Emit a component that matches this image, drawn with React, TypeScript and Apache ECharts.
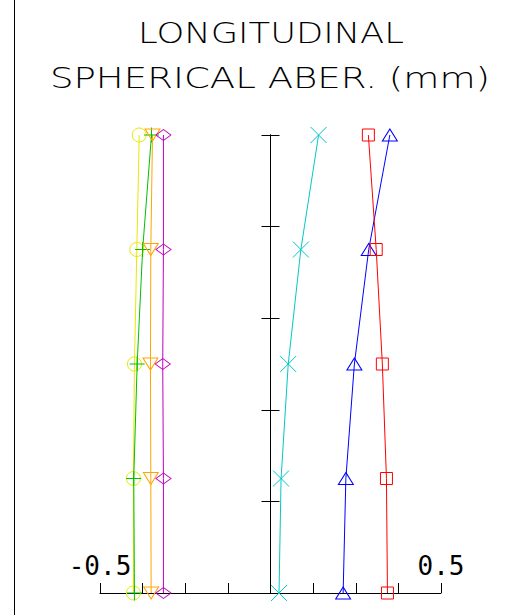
import React, { useEffect, useRef } from "react";
import * as echarts from "echarts";

const titleLines = ["LONGITUDINAL", "SPHERICAL ABER. (mm)"];
const xTickLabels = ["-0.5", "0.5"];
const pupilHeights = [0, 0.25, 0.5, 0.75, 1.0];

const yellowCircle = [-0.402, -0.402, -0.399, -0.392, -0.385];
const greenPlus = [-0.399, -0.401, -0.391, -0.375, -0.349];
const orangeInvTriangle = [-0.35, -0.351, -0.352, -0.351, -0.346];
const magentaDiamond = [-0.314, -0.314, -0.316, -0.314, -0.314];
const cyanCross = [0.025, 0.031, 0.052, 0.089, 0.141];
const blueTriangle = [0.213, 0.221, 0.246, 0.288, 0.35];
const redSquare = [0.343, 0.34, 0.328, 0.31, 0.287];

const FONT = "DejaVu Sans Mono";
const TITLE_FONT = "DejaVu Sans";

function mkSeries(
  name: string,
  values: number[],
  color: string,
  symbol: string,
  size: number | number[],
  rotate = 0
) {
  return {
    name,
    type: "line",
    data: values.map((v, i) => [v, pupilHeights[i]]),
    symbol,
    symbolSize: size,
    symbolRotate: rotate,
    showSymbol: true,
    lineStyle: { color, width: 1 },
    itemStyle: { color: "transparent", borderColor: color, borderWidth: 1 },
    emphasis: { disabled: true },
    z: 3,
  };
}

export default function App() {
  const ref = useRef<HTMLDivElement>(null);
  useEffect(() => {
    if (!ref.current) return;
    const chart = echarts.init(ref.current, null, { renderer: "svg" });
    const yAxisBase = {
      type: "value",
      min: 0,
      max: 1,
      interval: 0.2,
      axisLine: { show: true, onZero: true, onZeroAxisIndex: 0, lineStyle: { color: "#000", width: 1 } },
      axisTick: { show: true, length: 9, lineStyle: { color: "#000", width: 1 } },
      axisLabel: { show: false },
      splitLine: { show: false },
    };
    chart.setOption({
      animation: false,
      backgroundColor: "#fff",
      grid: { left: 100, right: 81, top: 135, bottom: 22, containLabel: false },
      xAxis: {
        type: "value",
        min: -0.5,
        max: 0.5,
        interval: 0.125,
        axisLine: { show: true, onZero: false, lineStyle: { color: "#000", width: 1 } },
        axisTick: { show: true, inside: true, length: 10, lineStyle: { color: "#000", width: 1 } },
        axisLabel: {
          show: true,
          inside: true,
          margin: 14,
          fontFamily: FONT,
          fontSize: 26,
          color: "#000",
          formatter: (v: number) =>
            Math.abs(v + 0.5) < 1e-9 ? xTickLabels[0] : Math.abs(v - 0.5) < 1e-9 ? xTickLabels[1] : "",
        },
        splitLine: { show: false },
      },
      yAxis: [
        { ...yAxisBase, position: "left" },
        { ...yAxisBase, position: "right" },
      ],
      graphic: [
        {
          type: "line",
          shape: { x1: 14.5, y1: 0, x2: 14.5, y2: 615 },
          style: { stroke: "#000", lineWidth: 1 },
        },
        {
          type: "text",
          x: 271,
          y: 33,
          scaleX: 1.22,
          style: {
            text: titleLines[0],
            fontFamily: TITLE_FONT,
            fontWeight: 200,
            fontSize: 29,
            fill: "#000",
            textAlign: "center",
            textVerticalAlign: "middle",
          },
        },
        {
          type: "text",
          x: 270,
          y: 78,
          scaleX: 1.28,
          style: {
            text: titleLines[1],
            fontFamily: TITLE_FONT,
            fontWeight: 200,
            fontSize: 29,
            fill: "#000",
            textAlign: "center",
            textVerticalAlign: "middle",
          },
        },
      ],
      series: [
        mkSeries("yellow", yellowCircle, "#e8e800", "circle", 14),
        mkSeries("green", greenPlus, "#00c000", "path://M8,0L8,16M0,8L16,8", 15),
        mkSeries("orange", orangeInvTriangle, "#ffa500", "triangle", [15, 12], 180),
        mkSeries("magenta", magentaDiamond, "#c000c0", "diamond", [15, 11]),
        mkSeries("cyan", cyanCross, "#00c8c8", "path://M0,0L16,16M16,0L0,16", 16),
        mkSeries("blue", blueTriangle, "#0000ff", "triangle", [15, 12]),
        mkSeries("red", redSquare, "#ff0000", "rect", 12),
      ],
    });
    return () => chart.dispose();
  }, []);
  return (
    <div
      ref={ref}
      style={{ position: "fixed", left: 0, top: 0, width: 522, height: 615, background: "#fff" }}
    />
  );
}
